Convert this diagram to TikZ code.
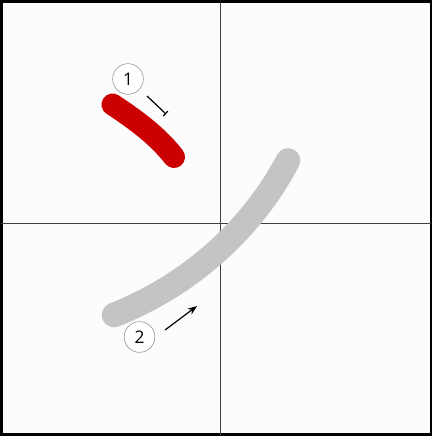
\documentclass[tikz,border=0pt]{standalone}
\usepackage{fontspec}
\setsansfont{Open Sans}
\usetikzlibrary{arrows.meta}

\definecolor{strokered}{HTML}{CC0000}
\definecolor{strokegray}{HTML}{C4C4C4}
\definecolor{paper}{HTML}{FCFCFC}

\begin{document}
\begin{tikzpicture}[
  x=0.75pt, y=-0.75pt,
  font=\sffamily,
  frame/.style={draw=black, line width=2.2pt, fill=paper},
  guide/.style={draw=black!75, line width=0.7pt},
  brush/.style={line cap=round},
  numcirc/.style={
    draw=black!45, circle, line width=0.4pt, fill=white,
    minimum size=23pt, inner sep=0pt, font=\sffamily\fontsize{13}{13}\selectfont
  },
  arrow/.style={-Stealth, line width=0.9pt},
  endbar/.style={-{Bar[width=5pt]}, line width=0.9pt},
]

\useasboundingbox (0,0) rectangle (433,440);
\draw[frame] (1.5,1.5) rectangle (431,434.5);

% cross
\draw[guide] (220.7,1.5) -- (220.7,434.5);
\draw[guide] (1.5,223) -- (431,223);

% strokes
\draw[brush, line width=16.5pt, draw=strokered]
  (112.5,104.5) .. controls (133,118) and (157,135) .. (174,157);
\draw[brush, line width=18.5pt, draw=strokegray]
  (288,160.5) .. controls (252,229) and (190,285) .. (114,315);

% numbers
\node[numcirc] (n1) at (128,79) {1};
\coordinate (a1s) at (147,96);
\coordinate (a1e) at (166,114);
\draw[endbar] (a1s) -- (a1e);

\node[numcirc] (n2) at (139.5,337) {2};
\coordinate (a2s) at (165,330);
\coordinate (a2e) at (197,306);
\draw[arrow] (a2s) -- (a2e);

\end{tikzpicture}
\end{document}
